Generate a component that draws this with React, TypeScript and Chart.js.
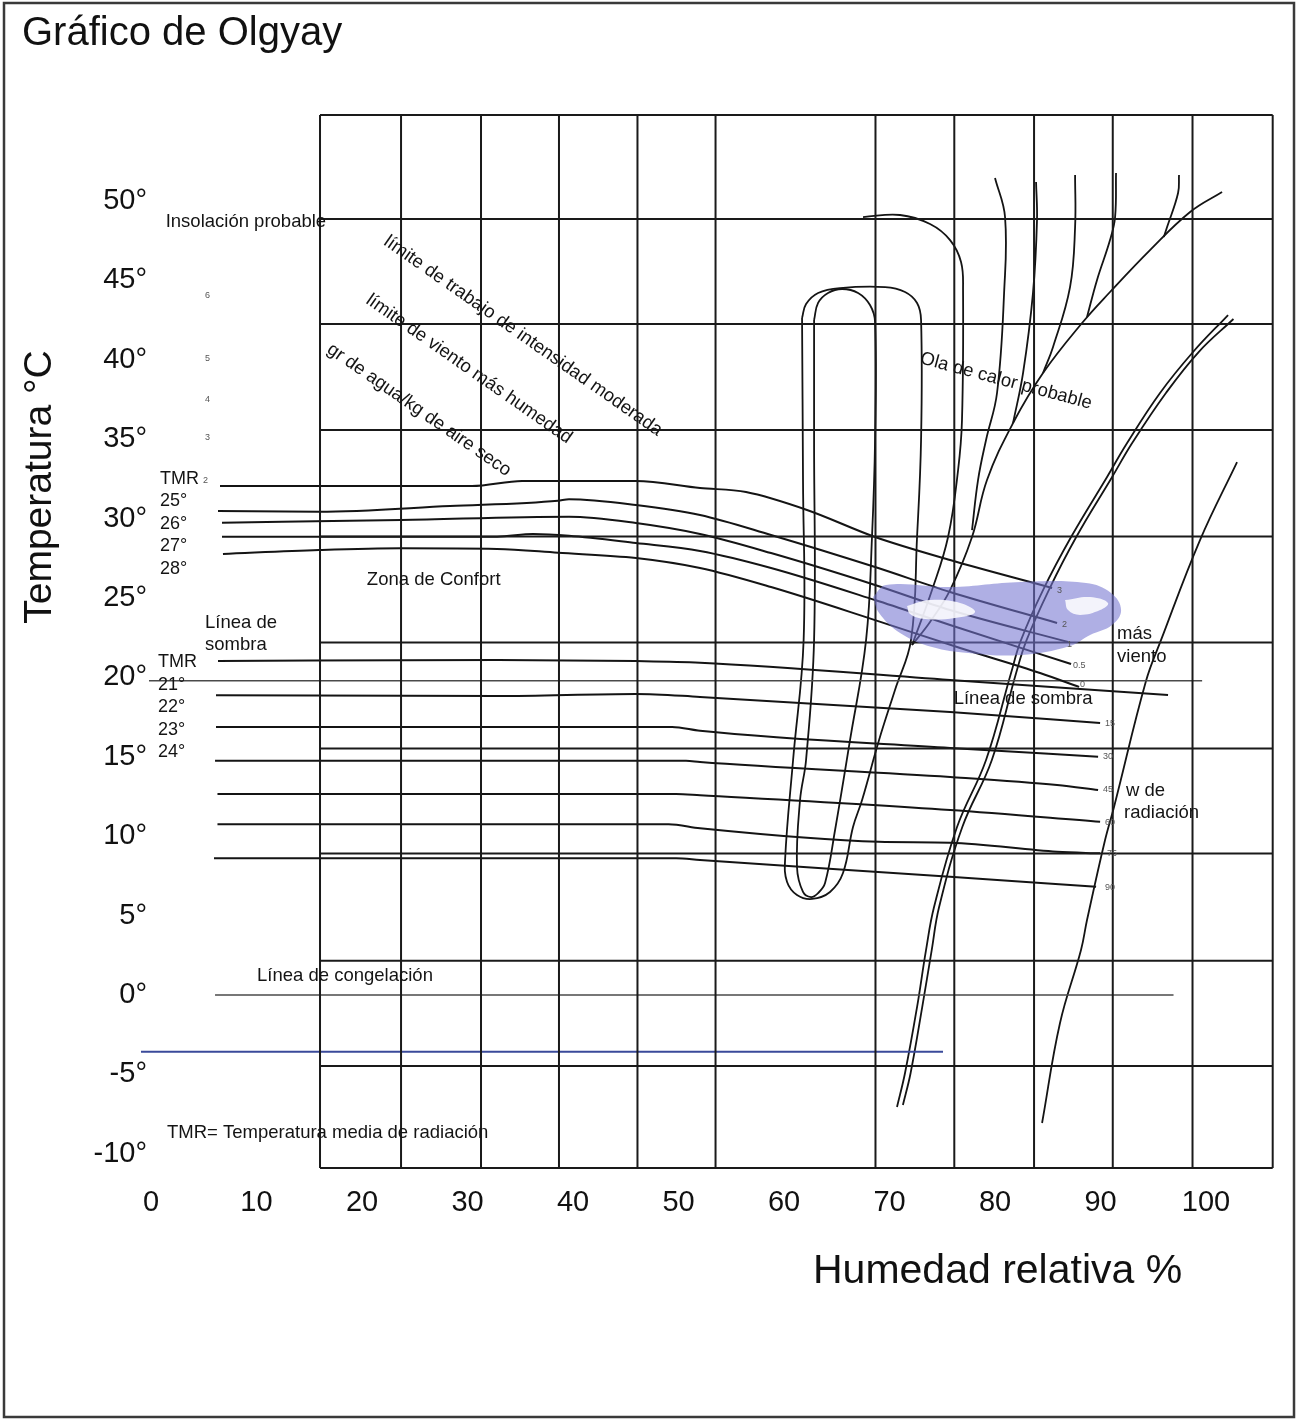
import { useEffect, useRef } from 'react';
import { Chart, registerables } from 'chart.js';

Chart.register(...registerables);

const FONT = "'Liberation Sans', Arial, Helvetica, sans-serif";

// ---- axis ticks (humidity % / temperature °C)
const xTickValues = [0, 10, 20, 30, 40, 50, 60, 70, 80, 90, 100];
const yTickValues = [-10, -5, 0, 5, 10, 15, 20, 25, 30, 35, 40, 45, 50];

// ---- background grid of the original figure (data units)
const gridColumns = [16.02, 23.7, 31.28, 38.67, 46.11, 53.51, 68.67, 76.14, 83.7, 91.16, 98.72, 106.32];
const gridRows = [55.42, 48.87, 42.25, 35.58, 28.87, 22.2, 15.52, 8.91, 2.16, -4.47, -10.89];

// ---- upper lines (TMR 25..28, wind 3 / 2 / 1 / 0.5 / 0 m/s)
const windLine3 = [[6.54, 32.05], [30.43, 32.05], [35.17, 32.37], [45.97, 32.37], [52.04, 31.93], [56.4, 31.67], [62.18, 30.54], [68.63, 28.84], [75.74, 27.39], [85.41, 25.63]];
const windLine2 = [[6.35, 30.48], [15.92, 30.43], [28.34, 30.79], [38.58, 31.13], [39.62, 31.22], [45.97, 30.86], [52.04, 30.23], [58.77, 28.97], [68.63, 26.95], [75.74, 25.38], [85.88, 23.43]];
const windLine1 = [[6.73, 29.74], [23.7, 29.91], [39.62, 30.12], [45.97, 29.72], [52.04, 29.03], [58.77, 27.83], [68.63, 25.82], [75.74, 24.24], [86.92, 22.23]];
const windLine05 = [[6.73, 28.86], [32.8, 28.86], [36.21, 29.03], [39.62, 28.92], [45.97, 28.46], [52.04, 27.96], [58.77, 26.89], [68.63, 24.87], [75.74, 23.3], [87.21, 20.84]];
const windLine0 = [[6.82, 27.77], [15.92, 28.02], [23.7, 28.13], [32.8, 28.09], [38.58, 27.85], [45.97, 27.52], [52.04, 26.89], [58.77, 25.69], [68.63, 23.61], [76.69, 21.85], [84.27, 20.28], [87.97, 19.4]];

// ---- lower lines (shade line, radiation W 15..90)
const shadeLine = [[6.35, 21.03], [32.8, 21.1], [45.97, 21.03], [52.04, 20.93], [75.74, 19.84], [96.4, 18.89]];
const rad15 = [[6.16, 18.87], [32.8, 18.83], [45.97, 18.96], [52.04, 18.77], [75.74, 17.82], [89.96, 17.13]];
const rad30 = [[6.16, 16.88], [49.39, 16.88], [52.04, 16.64], [75.74, 15.55], [89.77, 15.01]];
const rad45 = [[6.07, 14.75], [50.71, 14.75], [52.04, 14.67], [75.74, 13.73], [85.88, 13.22], [89.77, 12.91]];
const rad60 = [[6.3, 12.66], [49.77, 12.66], [52.04, 12.58], [75.74, 11.65], [89.96, 10.91]];
const rad75 = [[6.3, 10.75], [49.06, 10.75], [52.04, 10.5], [68.97, 9.65], [75.74, 9.59], [85.88, 9.02], [89.96, 8.92]];
const rad90 = [[5.97, 8.61], [49.77, 8.61], [52.04, 8.5], [75.74, 7.45], [89.58, 6.82]];

// ---- straight reference lines
const line20 = [[-0.19, 19.79], [99.63, 19.79]];
const freezeLine = [[6.07, 0], [96.92, 0]];
const blueLine = [[-0.95, -3.57], [75.07, -3.57]];

// ---- loops, heat curves, fan
const loopOuter = [[61.71, 42.63], [62.09, 43.51], [63.23, 44.21], [65.31, 44.52], [69.58, 44.58], [71.47, 44.27], [72.61, 43.58], [72.99, 42.51], [72.99, 34.95], [72.61, 28.84], [72.04, 22.36], [70.52, 19.21], [69.01, 16.06], [67.4, 12.28], [66.54, 10.58], [65.59, 7.68], [64.36, 6.49], [62.66, 6.05], [61.23, 6.3], [60.29, 7.12], [60.1, 8.5], [60.86, 14.8], [61.86, 22.36], [61.8, 32.43], [61.71, 42.63]];
const loopInner = [[62.85, 42.51], [63.23, 43.58], [64.17, 44.21], [65.5, 44.46], [67.02, 44.21], [68.15, 43.45], [68.63, 42.38], [68.63, 34.95], [68.34, 28.84], [67.78, 22.36], [66.26, 16.06], [64.84, 10.39], [63.89, 7.05], [63.23, 6.42], [62.56, 6.17], [61.8, 6.49], [61.23, 8.06], [61.52, 12.28], [62.09, 14.8], [62.85, 22.36], [62.85, 34.95], [62.85, 42.51]];
const heatArc = [[67.49, 48.99], [71.0, 49.12], [73.84, 48.55], [75.74, 47.54], [76.78, 46.16], [76.97, 44.4], [76.87, 36.21], [76.5, 33.06], [75.55, 28.84], [74.03, 25.5], [72.14, 22.04]];
const fanMain = [[101.52, 50.57], [98.49, 49.31], [94.69, 46.91], [90.9, 44.27], [88.25, 42.32], [84.55, 39.17], [81.71, 36.02], [79.24, 32.43], [77.82, 28.84], [75.74, 25.5], [73.84, 23.49], [72.14, 22.04]];
const fan1 = [[80.0, 51.45], [80.95, 48.99], [80.86, 44.21], [80.19, 37.91], [79.15, 34.95], [78.39, 32.43], [77.82, 29.28]];
const fan2 = [[83.89, 51.2], [83.98, 48.8], [83.6, 44.21], [82.66, 39.17], [81.71, 36.02]];
const fan3 = [[87.59, 51.64], [87.59, 48.36], [87.11, 44.58], [85.5, 40.81], [84.55, 39.17]];
const fan4 = [[91.47, 51.76], [91.38, 48.99], [90.9, 47.54], [89.67, 45.03], [88.72, 42.7]];
const fan5 = [[97.44, 51.64], [97.35, 50.5], [96.31, 48.36], [96.0, 47.73]];
const dewA = [[102.09, 42.82], [98.77, 40.49], [95.64, 37.91], [92.52, 34.76], [90.62, 32.62], [87.21, 28.84], [84.55, 25.5], [82.47, 22.36], [81.52, 20.28], [79.15, 14.8], [76.4, 10.58], [74.22, 5.54], [73.46, 2.83], [72.61, -0.76], [71.47, -4.91], [70.71, -7.05]];
const dewB = [[102.6, 42.57], [99.3, 40.49], [96.2, 37.91], [93.0, 34.76], [91.1, 32.62], [87.7, 28.84], [85.1, 25.5], [83.0, 22.36], [82.0, 20.28], [79.7, 14.8], [76.9, 10.58], [74.7, 5.54], [74.0, 2.83], [73.1, -0.76], [72.0, -4.91], [71.27, -6.93]];
const rightLine = [[102.94, 33.56], [99.43, 28.65], [95.74, 22.36], [94.31, 19.77], [91.28, 11.84], [90.43, 9.76], [88.72, 4.72], [88.15, 2.83], [86.16, -1.76], [84.46, -8.06]];

// ---- lavender comfort patch
const patch = [[68.44, 25.06], [69.67, 25.82], [75.74, 25.69], [82.47, 26.01], [88.63, 25.94], [91.0, 25.31], [91.95, 24.24], [91.09, 23.3], [89.01, 22.67], [87.11, 21.98], [82.47, 21.41], [77.44, 21.54], [74.03, 21.91], [71.0, 22.8], [69.01, 24.06], [68.44, 25.06]];
const patchHole1 = [[71.66, 24.5], [73.84, 24.87], [76.69, 24.69], [78.11, 24.12], [76.21, 23.74], [73.37, 23.68], [71.95, 24.0], [71.66, 24.5]];
const patchHole2 = [[86.64, 24.87], [89.01, 25.06], [90.71, 24.69], [89.96, 24.24], [88.06, 23.93], [86.92, 24.24], [86.64, 24.87]];

// ---- text annotations (data coordinates)
const noteTexts = [
  'Insolación probable',
  'límite de trabajo de intensidad moderada',
  'límite de viento más humedad',
  'gr de agua/kg de aire seco',
  'Ola de calor probable',
  'Zona de Confort',
  'Línea de', 'sombra',
  'TMR', '25°', '26°', '27°', '28°',
  'TMR', '21°', '22°', '23°', '24°',
  'Línea de sombra',
  'más', 'viento',
  'w de', 'radiación',
  'Línea de congelación',
  'TMR= Temperatura media de radiación',
];
const notePositions = [
  [1.39, 48.68], [35.26, 41.5], [30.14, 39.42], [25.4, 36.84], [81.04, 38.66], [20.46, 26.13],
  [5.12, 23.43], [5.12, 22.04],
  [0.85, 32.49], [0.85, 31.11], [0.85, 29.66], [0.85, 28.27], [0.85, 26.83],
  [0.66, 20.97], [0.66, 19.52], [0.66, 18.14], [0.66, 16.69], [0.66, 15.3],
  [76.08, 18.64], [91.57, 22.73], [91.57, 21.28], [92.42, 12.85], [92.23, 11.46],
  [10.05, 1.2], [1.52, -8.69],
];
const noteAngles = [0, 35, 35, 34.7, 15, 0, 0, 0, 0, 0, 0, 0, 0, 0, 0, 0, 0, 0, 0, 0, 0, 0, 0, 0, 0];
const noteSizes = [18.5, 18.5, 18.5, 18.5, 18.5, 18.5, 18.5, 18.5, 18, 18, 18, 18, 18, 18, 18, 18, 18, 18, 18.5, 18.5, 18.5, 18.5, 18.5, 18.5, 18.5];

const smallTexts = ['6', '5', '4', '3', '2', '3', '2', '1', '0.5', '0', '15', '30', '45', '60', '75', '90'];
const smallPositions = [
  [5.12, 44.02], [5.12, 40.11], [5.12, 37.47], [5.12, 35.08], [4.93, 32.37],
  [85.88, 25.5], [86.35, 23.3], [86.83, 22.1], [87.4, 20.78], [88.06, 19.58],
  [90.43, 17.07], [90.24, 14.99], [90.24, 12.91], [90.43, 10.89], [90.62, 8.94], [90.43, 6.8],
];

const toPts = (a: number[][]) => a.map(([x, y]) => ({ x, y }));

function lineDs(data: number[][], extra: Record<string, unknown> = {}) {
  return {
    data: toPts(data),
    borderColor: '#141414',
    borderWidth: 2,
    pointRadius: 0,
    pointHitRadius: 0,
    fill: false,
    clip: false,
    tension: 0,
    order: 0,
    ...extra,
  };
}

function buildDatasets() {
  const ds: any[] = [];
  const yTop = gridRows[0];
  const yBot = gridRows[gridRows.length - 1];
  const xL = gridColumns[0];
  const xR = gridColumns[gridColumns.length - 1];
  gridColumns.forEach((c) => ds.push(lineDs([[c, yBot], [c, yTop]], { borderColor: '#1a1a1a' })));
  gridRows.forEach((r) => ds.push(lineDs([[xL, r], [xR, r]], { borderColor: '#1a1a1a' })));

  [windLine3, windLine2, windLine1, windLine05, windLine0, shadeLine, rad15, rad30, rad45, rad60, rad75, rad90].forEach((l) =>
    ds.push(lineDs(l, { cubicInterpolationMode: 'monotone' }))
  );
  ds.push(lineDs(line20, { borderColor: '#4a4a4a', borderWidth: 1.5 }));
  ds.push(lineDs(freezeLine, { borderColor: '#4a4a4a', borderWidth: 1.5 }));
  ds.push(lineDs(blueLine, { borderColor: '#3a4a9a', borderWidth: 2 }));

  [loopOuter, loopInner, heatArc, fanMain, fan1, fan2, fan3, fan4, fan5, dewA, dewB, rightLine].forEach((l) =>
    ds.push(lineDs(l, { tension: 0.4, borderWidth: 1.8 }))
  );

  ds.push(
    lineDs(patch, {
      tension: 0.4,
      borderColor: 'rgba(0,0,0,0)',
      backgroundColor: 'rgba(118,118,208,0.58)',
      fill: 'shape',
      order: -1,
    })
  );
  [patchHole1, patchHole2].forEach((h) =>
    ds.push(
      lineDs(h, {
        tension: 0.4,
        borderColor: 'rgba(0,0,0,0)',
        backgroundColor: 'rgba(255,255,255,0.85)',
        fill: 'shape',
        order: -2,
      })
    )
  );
  return ds;
}

const decorPlugin = {
  id: 'olgyayDecor',
  beforeDraw(chart: any) {
    const { ctx, width, height } = chart;
    ctx.save();
    ctx.fillStyle = '#ffffff';
    ctx.fillRect(0, 0, width, height);
    ctx.strokeStyle = '#3a3a3a';
    ctx.lineWidth = 2.5;
    ctx.strokeRect(4, 3, width - 7, height - 5);
    ctx.restore();
  },
  afterDatasetsDraw(chart: any) {
    const { ctx } = chart;
    const xs = chart.scales.x;
    const ys = chart.scales.y;
    ctx.save();
    ctx.fillStyle = '#141414';
    ctx.textBaseline = 'middle';
    noteTexts.forEach((t, i) => {
      const px = xs.getPixelForValue(notePositions[i][0]);
      const py = ys.getPixelForValue(notePositions[i][1]);
      const ang = noteAngles[i];
      ctx.font = `${noteSizes[i]}px ${FONT}`;
      ctx.save();
      ctx.translate(px, py);
      if (ang) {
        ctx.rotate((ang * Math.PI) / 180);
        ctx.textAlign = 'center';
      } else {
        ctx.textAlign = 'left';
      }
      ctx.fillText(t, 0, 0);
      ctx.restore();
    });
    ctx.fillStyle = '#555555';
    ctx.font = `9px ${FONT}`;
    ctx.textAlign = 'left';
    smallTexts.forEach((t, i) => {
      ctx.fillText(t, xs.getPixelForValue(smallPositions[i][0]), ys.getPixelForValue(smallPositions[i][1]));
    });
    ctx.restore();
  },
  afterDraw(chart: any) {
    const { ctx } = chart;
    ctx.save();
    ctx.fillStyle = '#111111';
    ctx.textBaseline = 'alphabetic';
    ctx.textAlign = 'left';
    ctx.font = `40px ${FONT}`;
    ctx.fillText('Gráfico de Olgyay', 22, 45);
    ctx.font = `41px ${FONT}`;
    ctx.fillText('Humedad relativa %', 813, 1283);
    ctx.save();
    ctx.translate(51, 487);
    ctx.rotate(-Math.PI / 2);
    ctx.textAlign = 'center';
    ctx.font = `39px ${FONT}`;
    ctx.fillText('Temperatura °C', 0, 0);
    ctx.restore();
    ctx.restore();
  },
};

export default function App() {
  const ref = useRef<HTMLCanvasElement>(null);
  useEffect(() => {
    if (!ref.current) return;
    const chart = new Chart(ref.current, {
      type: 'line',
      data: { datasets: buildDatasets() },
      options: {
        animation: false,
        responsive: false,
        devicePixelRatio: 1,
        events: [],
        layout: { padding: { left: 0, right: 24.3, top: 115, bottom: 0 } },
        plugins: { legend: { display: false }, tooltip: { enabled: false }, title: { display: false } },
        scales: {
          x: {
            type: 'linear',
            position: 'bottom',
            min: 0,
            max: 106.32,
            afterBuildTicks: (s: any) => {
              s.ticks = xTickValues.map((v) => ({ value: v }));
            },
            afterFit: (s: any) => {
              s.height = 251;
            },
            grid: { display: false, drawTicks: false },
            border: { display: false },
            ticks: {
              padding: 18,
              autoSkip: false,
              maxRotation: 0,
              color: '#111111',
              font: { size: 29, family: FONT },
            },
          },
          y: {
            type: 'linear',
            min: -10.894,
            max: 55.416,
            afterBuildTicks: (s: any) => {
              s.ticks = yTickValues.map((v) => ({ value: v }));
            },
            afterFit: (s: any) => {
              s.width = 151;
            },
            grid: { display: false, drawTicks: false },
            border: { display: false },
            ticks: {
              padding: 4,
              autoSkip: false,
              color: '#111111',
              font: { size: 29, family: FONT },
              callback: (v: any) => `${v}°`,
            },
          },
        },
      },
      plugins: [decorPlugin],
    } as any);
    return () => chart.destroy();
  }, []);

  return (
    <div style={{ position: 'absolute', left: 0, top: 0, width: 1297, height: 1419, background: '#fff' }}>
      <canvas ref={ref} width={1297} height={1419} style={{ display: 'block', width: 1297, height: 1419 }} />
    </div>
  );
}
